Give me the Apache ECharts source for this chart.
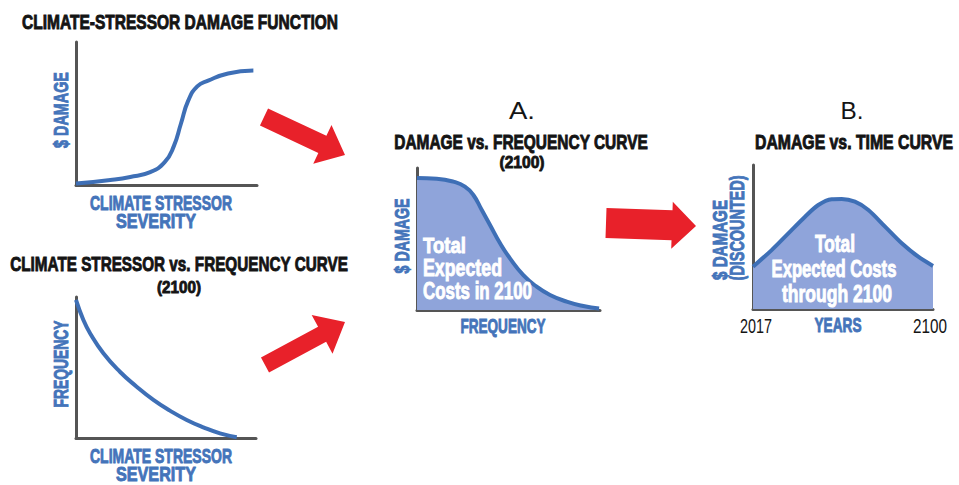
<!DOCTYPE html>
<html>
<head>
<meta charset="utf-8">
<script src="https://cdn.jsdelivr.net/npm/echarts@6/dist/echarts.min.js"></script>
<style>
  html, body { margin: 0; padding: 0; background: #fff; }
  #chart { width: 959px; height: 485px; }
</style>
</head>
<body>
<div id="chart"></div>
<script>
// curve readings, x and y in 0..100 of each panel (B uses years on x)
const damageFnX = [0, 19, 30, 41, 49, 54, 58, 62, 67, 73, 84, 98];
const damageFnY = [1, 3.5, 5.6, 9, 16, 27, 43, 59, 69, 73, 78, 80];

const stressFreqX = [0, 4.1, 7.8, 15.2, 24.4, 33.7, 43, 52.2, 61.5, 70.7, 80, 89.3];
const stressFreqY = [98, 83.7, 74.3, 60.1, 47, 36.4, 27, 19.4, 12.8, 7.6, 3.3, 0.6];

const dmgFreqX = [0, 10.8, 19.9, 26.2, 30.8, 35.4, 39.9, 45.4, 50.8, 58.1, 65.4, 72.7, 81.8, 90.9, 99.5];
const dmgFreqY = [93, 92.5, 90.4, 86.9, 81, 70.4, 59.9, 47, 36.4, 24.6, 16.4, 10.6, 5.9, 2.8, 1];

const years = [2017, 2025.6, 2033.3, 2041, 2047.1, 2053.3, 2057.9, 2064, 2070.2, 2077.9, 2085.6, 2093.2, 2100];
const dmgTimeY = [29.4, 40.9, 52.5, 64.1, 72.2, 76.2, 76.4, 74.5, 68.8, 57.2, 45.6, 36.3, 29.9];
const yearTicks = [2017, 2100];

const FONT = '"Liberation Sans", Arial, sans-serif';
const BLUE = '#4474BA';
const LINE = '#3E6FB6';
const FILL = '#8FA4DA';
const AXIS = '#555555';
const RED = '#E8212A';
const INK = '#141414';

const zip = (xs, ys) => xs.map((x, i) => [x, ys[i]]);

const grids = [
  { left: 76, top: 42, width: 181, height: 143 },
  { left: 76, top: 297, width: 180, height: 141 },
  { left: 417, top: 168, width: 183, height: 142 },
  { left: 753, top: 165, width: 180, height: 144 }
];

function axis(gi, min, max) {
  return {
    type: 'value', gridIndex: gi, min: min, max: max,
    axisLine: { show: true, lineStyle: { color: AXIS, width: 3 } },
    axisTick: { show: false }, axisLabel: { show: false }, splitLine: { show: false }
  };
}

function curve(gi, data, filled, smooth) {
  return {
    type: 'line', xAxisIndex: gi, yAxisIndex: gi, data: data,
    smooth: smooth, symbol: 'none', silent: true,
    lineStyle: { color: LINE, width: 4 },
    areaStyle: filled ? { color: FILL, opacity: 1 } : undefined,
    z: 1
  };
}

// text squeezed to the width seen in the reference (condensed face)
const ctx = document.createElement('canvas').getContext('2d');
function txt(text, x, y, size, width, opts) {
  opts = opts || {};
  const weight = opts.weight || 'bold';
  const font = weight + ' ' + size + 'px ' + FONT;
  ctx.font = font;
  const sx = width / ctx.measureText(text).width;
  const fill = opts.fill || INK;
  return {
    type: 'text', x: x, y: y, silent: true, z: 10,
    rotation: opts.rotation || 0, scaleX: sx,
    style: {
      text: text, font: font, fill: fill,
      stroke: weight === 'bold' ? fill : null, lineWidth: weight === 'bold' ? 0.9 : 0,
      textAlign: opts.align || 'center', textVerticalAlign: 'middle'
    }
  };
}

function arrow(x0, y0, x1, y1, body, head, headLen) {
  const dx = x1 - x0, dy = y1 - y0, len = Math.hypot(dx, dy);
  const ux = dx / len, uy = dy / len, nx = -uy, ny = ux;
  const bx = x1 - ux * headLen, by = y1 - uy * headLen;
  const p = (x, y, s) => [x + nx * s, y + ny * s];
  return {
    type: 'polygon', silent: true,
    shape: { points: [p(x0, y0, body / 2), p(bx, by, body / 2), p(bx, by, head / 2), [x1, y1],
      p(bx, by, -head / 2), p(bx, by, -body / 2), p(x0, y0, -body / 2)] },
    style: { fill: RED }
  };
}

const UP = Math.PI / 2;
const blue = { fill: BLUE };
const white = { fill: '#ffffff' };

const graphics = [
  // panel titles
  txt('CLIMATE-STRESSOR DAMAGE FUNCTION', 180, 22, 20, 316),
  txt('CLIMATE STRESSOR vs. FREQUENCY CURVE', 179, 264, 20, 338),
  txt('(2100)', 179, 287, 17, 44),
  txt('A.', 522, 111, 24, 26, { weight: 'normal' }),
  txt('DAMAGE vs. FREQUENCY CURVE', 521, 142, 20, 254),
  txt('(2100)', 522, 162, 17, 45),
  txt('B.', 852, 111, 24, 23, { weight: 'normal' }),
  txt('DAMAGE vs. TIME CURVE', 854, 142, 20, 198),
  // axis titles
  txt('$ DAMAGE', 61, 110, 20, 76, { rotation: UP, fill: BLUE }),
  txt('CLIMATE STRESSOR', 161, 203, 20, 142, blue),
  txt('SEVERITY', 156, 221, 20, 80, blue),
  txt('FREQUENCY', 61, 364, 20, 87, { rotation: UP, fill: BLUE }),
  txt('CLIMATE STRESSOR', 161, 456, 20, 142, blue),
  txt('SEVERITY', 156, 474, 20, 80, blue),
  txt('$ DAMAGE', 402, 236, 20, 75, { rotation: UP, fill: BLUE }),
  txt('FREQUENCY', 503, 327, 20, 85, blue),
  txt('$ DAMAGE', 720, 240, 20, 80, { rotation: UP, fill: BLUE }),
  txt('(DISCOUNTED)', 737, 228, 20, 105, { rotation: UP, fill: BLUE }),
  txt('YEARS', 838, 326, 20, 47, blue),
  // labels inside the shaded areas
  txt('Total', 423, 245, 23, 43, { fill: '#fff', align: 'left' }),
  txt('Expected', 423, 268, 23, 79, { fill: '#fff', align: 'left' }),
  txt('Costs in 2100', 423, 291, 23, 109, { fill: '#fff', align: 'left' }),
  txt('Total', 835, 244, 23, 40, white),
  txt('Expected Costs', 834, 269, 23, 125, white),
  txt('through 2100', 837, 294, 23, 110, white),
  // red arrows
  arrow(264, 117, 345, 155, 19, 43, 25),
  arrow(265, 365, 345, 322, 17, 44, 26),
  arrow(606, 223, 696, 226, 30, 47, 24)
];

const chart = echarts.init(document.getElementById('chart'), null, { renderer: 'svg' });
chart.setOption({
  animation: false,
  backgroundColor: '#fff',
  grid: grids,
  xAxis: [axis(0, 0, 100), axis(1, 0, 100), axis(2, 0, 100), axis(3, 2017, 2100)],
  yAxis: [axis(0, 0, 100), axis(1, 0, 100), axis(2, 0, 100), axis(3, 0, 100)],
  series: [
    curve(0, zip(damageFnX, damageFnY), false, 0.5),
    curve(1, zip(stressFreqX, stressFreqY), false, 0.5),
    curve(2, zip(dmgFreqX, dmgFreqY), true, 0.5),
    curve(3, zip(years, dmgTimeY), true, 0.3)
  ],
  graphic: graphics
});

// year tick labels placed through the axis scale of panel B
const yearLabels = yearTicks.map(function (yr) {
  const px = chart.convertToPixel({ gridIndex: 3 }, [yr, 0]);
  return txt(String(yr), px[0] + (yr === 2017 ? 3 : -3), px[1] + 17, 21, yr === 2017 ? 32 : 34, { weight: 'normal' });
});
chart.setOption({ graphic: graphics.concat(yearLabels) });
</script>
</body>
</html>
